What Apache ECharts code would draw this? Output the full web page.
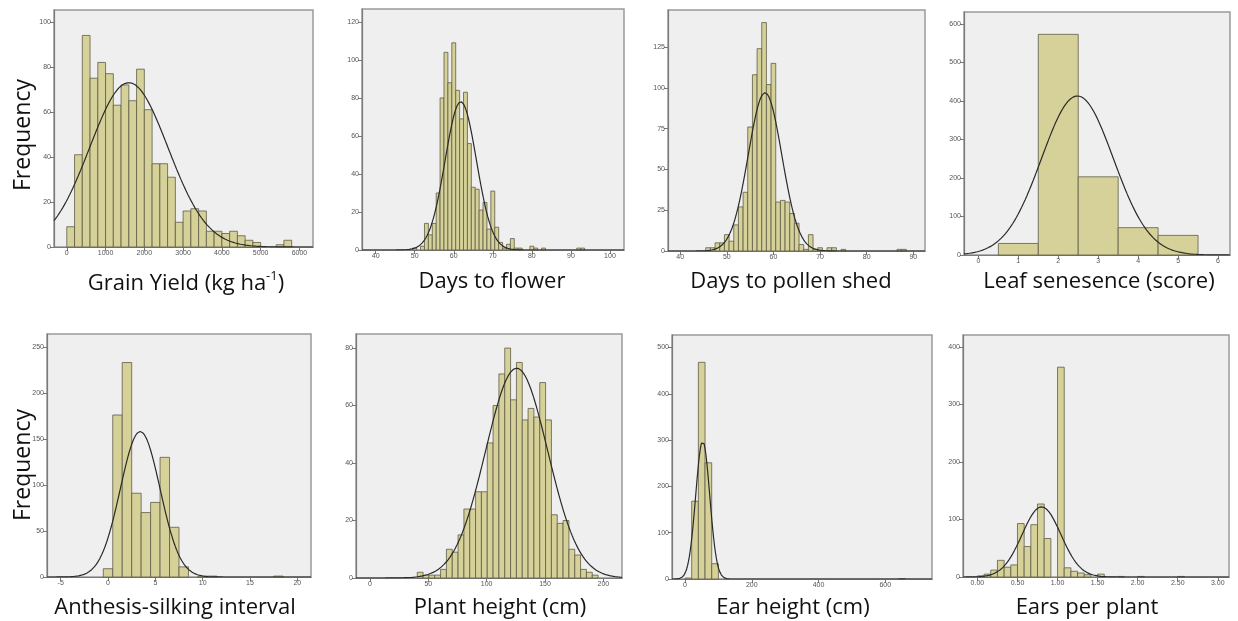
<!DOCTYPE html>
<html>
<head>
<meta charset="utf-8">
<style>
  html, body { margin: 0; padding: 0; background: #fff; }
  #main { width: 1238px; height: 621px; }
</style>
<script src="https://cdn.jsdelivr.net/npm/echarts@6/dist/echarts.min.js"></script>
</head>
<body>
<div id="main"></div>
<script>
// grain yield, bins of 200 (left edges)
var yieldLeft = [0, 200, 400, 600, 800, 1000, 1200, 1400, 1600, 1800, 2000, 2200, 2400, 2600, 2800, 3000, 3200, 3400, 3600, 3800, 4000, 4200, 4400, 4600, 4800, 5400, 5600];
var yieldCounts = [9, 41, 94, 75, 82, 77, 63, 72, 65, 79, 61, 37, 37, 31, 11, 16, 17, 16, 7, 7, 6, 7, 5, 3, 2, 1, 3];
var yieldCurve = [1600, 1008, 73]; // mean, sd, peak
var yieldXTicks = [0, 1000, 2000, 3000, 4000, 5000, 6000];
var yieldYTicks = [0, 20, 40, 60, 80, 100];

// days to flower, one bin per day
var flowerDays = [50, 52, 53, 54, 55, 56, 57, 58, 59, 60, 61, 62, 63, 64, 65, 66, 67, 68, 69, 70, 71, 72, 73, 74, 75, 76, 77, 80, 81, 83, 92, 93];
var flowerCounts = [1, 2, 14, 8, 14, 30, 80, 104, 88, 109, 84, 69, 83, 56, 33, 32, 21, 25, 11, 31, 12, 4, 1, 3, 6, 1, 1, 2, 1, 1, 1, 1];
var flowerCurve = [61.8, 4.0, 78];
var flowerXTicks = [40, 50, 60, 70, 80, 90, 100];
var flowerYTicks = [0, 20, 40, 60, 80, 100, 120];

// days to pollen shed
var pollenDays = [46, 47, 48, 49, 50, 51, 52, 53, 54, 55, 56, 57, 58, 59, 60, 61, 62, 63, 64, 65, 66, 67, 68, 69, 70, 72, 73, 75, 87, 88];
var pollenCounts = [2, 2, 5, 5, 10, 6, 16, 27, 36, 76, 108, 124, 140, 102, 115, 30, 31, 30, 23, 17, 4, 1, 10, 1, 2, 2, 2, 1, 1, 1];
var pollenCurve = [58.2, 3.6, 97];
var pollenXTicks = [40, 50, 60, 70, 80, 90];
var pollenYTicks = [0, 25, 50, 75, 100, 125];

// leaf senescence score
var leafScore = [1, 2, 3, 4, 5];
var leafCounts = [30, 573, 203, 71, 51];
var leafCurve = [2.48, 0.9, 413];
var leafXTicks = [0, 1, 2, 3, 4, 5, 6];
var leafYTicks = [0, 100, 200, 300, 400, 500, 600];

// anthesis-silking interval
var asiDays = [0, 1, 2, 3, 4, 5, 6, 7, 8, 10, 11, 18];
var asiCounts = [9, 176, 233, 91, 70, 81, 130, 54, 11, 1, 1, 1];
var asiCurve = [3.4, 2.1, 158];
var asiXTicks = [-5, 0, 5, 10, 15, 20];
var asiYTicks = [0, 50, 100, 150, 200, 250];

// plant height, bins of 5 (mid points)
var heightMid = [43, 48, 53, 58, 63, 68, 73, 78, 83, 88, 93, 98, 103, 108, 113, 118, 123, 128, 133, 138, 143, 148, 153, 158, 163, 168, 173, 178, 183, 188, 193];
var heightCounts = [2, 1, 1, 1, 3, 10, 9, 15, 24, 24, 30, 30, 47, 60, 71, 80, 62, 75, 55, 59, 56, 68, 55, 22, 19, 20, 10, 8, 3, 2, 1];
var heightCurve = [125.7, 26.6, 73];
var heightXTicks = [0, 50, 100, 150, 200];
var heightYTicks = [0, 20, 40, 60, 80];

// ear height, bins of 20 (left edges)
var earLeft = [0, 20, 40, 60, 80, 640];
var earCounts = [2, 168, 468, 251, 33, 1];
var earCurve = [53, 21, 298];
var earXTicks = [0, 200, 400, 600];
var earYTicks = [0, 100, 200, 300, 400, 500];

// ears per plant, bins of 1/12 (left edges)
var earsLeft = [0, 0.0833, 0.1667, 0.25, 0.3333, 0.4167, 0.5, 0.5833, 0.6667, 0.75, 0.8333, 1.0, 1.0833, 1.1667, 1.25, 1.3333, 1.5, 1.75, 2.0, 2.5];
var earsCounts = [2, 5, 12, 29, 17, 21, 93, 53, 91, 127, 67, 365, 16, 10, 7, 4, 5, 1, 1, 1];
var earsCurve = [0.80, 0.242, 122];
var earsXTicks = [0, 0.5, 1, 1.5, 2, 2.5, 3];
var earsYTicks = [0, 100, 200, 300, 400];

function fromLeft(lefts, counts, w) {
  return lefts.map(function (x, i) { return [x, x + w, counts[i]]; });
}
function fromMid(mids, counts, w) {
  return mids.map(function (x, i) { return [x - w / 2, x + w / 2, counts[i]]; });
}
function normalLine(p, xmin, xmax) {
  var pts = [];
  for (var i = 0; i <= 300; i++) {
    var x = xmin + (xmax - xmin) * i / 300;
    pts.push([x, p[2] * Math.exp(-(x - p[0]) * (x - p[0]) / (2 * p[1] * p[1]))]);
  }
  return pts;
}
function plain(v) { return String(v); }

var panels = [
  { bins: fromLeft(yieldLeft, yieldCounts, 200), curve: yieldCurve, xt: yieldXTicks, yt: yieldYTicks,
    x: [-330, 6350], ymax: 105.3, box: [54, 10, 259, 237] },
  { bins: fromMid(flowerDays, flowerCounts, 1), curve: flowerCurve, xt: flowerXTicks, yt: flowerYTicks,
    x: [36.5, 103.6], ymax: 126.8, box: [362, 9, 262, 241] },
  { bins: fromMid(pollenDays, pollenCounts, 1), curve: pollenCurve, xt: pollenXTicks, yt: pollenYTicks,
    x: [37.4, 92.5], ymax: 147.7, box: [668, 10, 257, 241] },
  { bins: fromMid(leafScore, leafCounts, 1), curve: leafCurve, xt: leafXTicks, yt: leafYTicks,
    x: [-0.36, 6.3], ymax: 631, box: [964, 12, 266, 243] },
  { bins: fromMid(asiDays, asiCounts, 1), curve: asiCurve, xt: asiXTicks, yt: asiYTicks,
    x: [-6.45, 21.45], ymax: 264, box: [47, 334, 264, 243] },
  { bins: fromMid(heightMid, heightCounts, 5), curve: heightCurve, xt: heightXTicks, yt: heightYTicks,
    x: [-12, 216], ymax: 84.9, box: [356, 334, 266, 244] },
  { bins: fromLeft(earLeft, earCounts, 20), curve: earCurve, xt: earXTicks, yt: earYTicks,
    x: [-39, 740], ymax: 527, box: [672, 335, 260, 244] },
  { bins: fromLeft(earsLeft, earsCounts, 1 / 12), curve: earsCurve, xt: earsXTicks, yt: earsYTicks,
    x: [-0.18, 3.14], ymax: 421, box: [963, 335, 266, 242], fmt: function (v) { return v.toFixed(2); } }
];

var titles = [
  ['{a|Grain Yield (kg ha}{s|-1}{a|)}', 186, 270],
  ['Days to flower', 492, 271],
  ['Days to pollen shed', 791, 271],
  ['Leaf senesence (score)', 1099, 271],
  ['Anthesis-silking interval', 175, 597],
  ['Plant height (cm)', 500, 597],
  ['Ear height (cm)', 793, 597],
  ['Ears per plant', 1087, 597]
];

var grid = [], xAxis = [], yAxis = [], series = [];
panels.forEach(function (p, i) {
  grid.push({
    left: p.box[0], top: p.box[1], width: p.box[2], height: p.box[3],
    show: true, backgroundColor: '#efefef', borderColor: '#9a9a9a', borderWidth: 1.5,
    outerBoundsMode: 'none'
  });
  xAxis.push({
    type: 'value', gridIndex: i, min: p.x[0], max: p.x[1],
    axisLine: { show: true, onZero: false, lineStyle: { color: '#7a7a7a', width: 1.2 } },
    axisTick: { show: true, customValues: p.xt, length: 4, lineStyle: { color: '#777' } },
    axisLabel: { customValues: p.xt, fontSize: 7, color: '#555', margin: 3, formatter: p.fmt || plain },
    splitLine: { show: false }
  });
  yAxis.push({
    type: 'value', gridIndex: i, min: 0, max: p.ymax,
    axisLine: { show: true, onZero: false, lineStyle: { color: '#7a7a7a', width: 1.2 } },
    axisTick: { show: true, customValues: p.yt, length: 4, lineStyle: { color: '#777' } },
    axisLabel: { customValues: p.yt, fontSize: 7, color: '#555', margin: 3, formatter: plain },
    splitLine: { show: false }
  });
  series.push({
    type: 'custom', xAxisIndex: i, yAxisIndex: i,
    encode: { x: [0, 1], y: 2 },
    data: p.bins,
    renderItem: function (params, api) {
      var a = api.coord([api.value(0), 0]);
      var b = api.coord([api.value(1), api.value(2)]);
      return {
        type: 'rect',
        shape: { x: a[0], y: b[1], width: b[0] - a[0], height: a[1] - b[1] },
        style: { fill: '#d6d198', stroke: '#5e5c48', lineWidth: 0.8 }
      };
    }
  });
  series.push({
    type: 'line', xAxisIndex: i, yAxisIndex: i,
    data: normalLine(p.curve, p.x[0], p.x[1]),
    showSymbol: false, clip: true, z: 5,
    lineStyle: { color: '#2a2a2a', width: 1.2 }
  });
});

var chart = echarts.init(document.getElementById('main'));
chart.setOption({
  animation: false,
  title: titles.map(function (t) {
    return {
      text: t[0], left: t[1], top: t[2], textAlign: 'center', padding: 0,
      textStyle: {
        fontFamily: 'Open Sans', fontSize: 22, fontWeight: 'normal', color: '#111',
        rich: {
          a: { fontFamily: 'Open Sans', fontSize: 22, color: '#111', lineHeight: 28 },
          s: { fontFamily: 'Open Sans', fontSize: 13, color: '#111', verticalAlign: 'top', lineHeight: 20 }
        }
      }
    };
  }),
  graphic: [
    { type: 'text', x: 12, y: 191, rotation: Math.PI / 2,
      style: { text: 'Frequency', font: '23px "Open Sans"', fill: '#111' } },
    { type: 'text', x: 12, y: 521, rotation: Math.PI / 2,
      style: { text: 'Frequency', font: '23px "Open Sans"', fill: '#111' } }
  ],
  grid: grid,
  xAxis: xAxis,
  yAxis: yAxis,
  series: series
});
</script>
</body>
</html>
